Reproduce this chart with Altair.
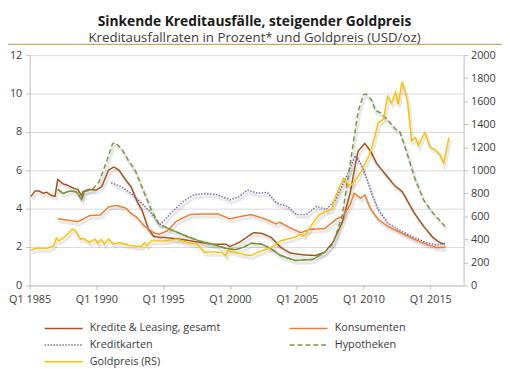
import altair as alt
import pandas as pd

series_names = ["Kredite & Leasing, gesamt", "Konsumenten", "Kreditkarten", "Hypotheken", "Goldpreis (RS)"]
series_colors = ["#A3541E", "#ED7D31", "#7B68A6", "#76983F", "#FFC000"]
series_dashes = [[1, 0], [1, 0], [1.5, 1.5], [5, 3], [1, 0]]

kredite_t = [1985.1, 1985.4, 1985.7, 1986.0, 1986.3, 1986.6, 1986.9, 1987.1, 1987.5, 1987.9, 1988.3, 1988.6,
             1988.9, 1989.0, 1989.4, 1990.0, 1990.4, 1990.9, 1991.3, 1991.7, 1992.2, 1992.6, 1993.1, 1993.4,
             1993.9, 1994.3, 1994.8, 1995.1, 1996.3, 1997.5, 1998.7, 1999.7, 2000.0, 2000.7, 2001.4, 2001.8,
             2002.4, 2003.1, 2003.8, 2004.5, 2005.5, 2006.4, 2007.1, 2007.7, 2008.4, 2009.0, 2009.4, 2009.6,
             2010.1, 2010.5, 2011.0, 2011.6, 2012.3, 2012.9, 2013.8, 2014.5, 2015.2, 2015.7, 2016.1]
kredite_v = [4.63, 4.92, 4.92, 4.8, 4.85, 4.7, 4.65, 5.52, 5.3, 5.2, 5.06, 5.0,
             4.67, 4.89, 5.0, 4.97, 5.14, 6.0, 6.17, 6.0, 5.49, 5.14, 4.29, 3.95,
             2.92, 2.55, 2.5, 2.5, 2.41, 2.27, 2.15, 2.15, 2.03, 2.24, 2.58, 2.75,
             2.71, 2.5, 1.98, 1.69, 1.59, 1.56, 1.73, 2.24, 3.27, 4.8, 6.34, 7.0,
             7.4, 7.03, 6.34, 5.83, 5.23, 4.89, 3.78, 3.09, 2.5, 2.24, 2.15]

konsum_t = [1987.1, 1987.8, 1988.6, 1989.5, 1990.3, 1990.9, 1991.5, 1992.2, 1992.6, 1993.0, 1993.6, 1994.3,
            1994.7, 1995.3, 1996.0, 1997.0, 1997.9, 1999.1, 2000.0, 2000.9, 2001.6, 2002.6, 2003.5, 2003.7,
            2004.5, 2005.3, 2006.0, 2007.1, 2008.0, 2008.5, 2009.0, 2009.3, 2009.8, 2010.1, 2010.5, 2011.1,
            2011.8, 2012.8, 2013.8, 2014.7, 2015.5, 2016.1]
konsum_v = [3.47, 3.41, 3.32, 3.64, 3.67, 4.09, 4.17, 4.03, 3.75, 3.57, 3.09, 2.75,
            2.67, 2.84, 3.35, 3.69, 3.72, 3.72, 3.47, 3.61, 3.69, 3.47, 3.2, 3.3,
            3.01, 2.75, 2.92, 2.96, 3.47, 3.64, 4.2, 4.8, 4.55, 4.72, 4.03, 3.44,
            3.09, 2.75, 2.41, 2.15, 1.98, 1.98]

karten_t = [1991.1, 1991.9, 1992.6, 1993.4, 1994.1, 1994.6, 1994.8, 1995.6, 1996.5, 1997.3, 1998.2, 1999.1,
            2000.0, 2000.7, 2001.3, 2002.1, 2002.8, 2003.5, 2004.3, 2005.0, 2005.7, 2006.5, 2007.2, 2007.9,
            2008.6, 2009.4, 2009.8, 2010.1, 2010.7, 2011.1, 2011.8, 2012.8, 2013.8, 2014.7, 2015.5, 2016.1]
karten_v = [5.35, 5.14, 4.8, 4.29, 3.78, 3.27, 3.18, 3.78, 4.38, 4.72, 4.79, 4.72,
            4.46, 4.63, 4.97, 4.8, 4.85, 4.29, 4.12, 3.69, 3.69, 4.12, 3.95, 4.46,
            5.49, 6.77, 6.34, 5.83, 4.63, 3.95, 3.27, 2.84, 2.5, 2.24, 2.1, 2.2]

hypo_t = [1987.1, 1987.5, 1988.0, 1988.5, 1988.9, 1989.1, 1989.7, 1990.2, 1990.7, 1991.2, 1991.4, 1991.9,
          1992.4, 1992.9, 1993.4, 1994.1, 1994.7, 1995.0, 1995.8, 1996.8, 1997.7, 1998.7, 1999.7, 2000.4,
          2001.0, 2001.6, 2002.4, 2003.1, 2003.8, 2004.9, 2006.2, 2007.1, 2007.7, 2008.4, 2009.0, 2009.3,
          2009.6, 2010.0, 2010.2, 2010.6, 2010.9, 2011.3, 2011.9, 2012.4, 2012.7, 2013.2, 2013.8, 2014.5,
          2015.2, 2016.1]
hypo_v = [5.01, 4.8, 4.92, 4.88, 4.46, 4.88, 5.01, 5.4, 6.34, 7.37, 7.45, 7.11,
          6.51, 6.0, 5.14, 3.95, 3.18, 3.09, 2.84, 2.55, 2.32, 2.15, 1.93, 1.86,
          1.98, 2.2, 2.15, 1.9, 1.56, 1.3, 1.35, 1.73, 2.15, 3.61, 6.34, 7.71,
          9.08, 9.93, 9.97, 9.68, 9.11, 8.99, 8.56, 8.14, 8.05, 7.03, 5.66, 4.46,
          3.78, 3.09]
# parts of the mortgage line that the reference draws solid
hypo_solid = [[1987.1, 1989.1], [1995.0, 2007.1]]

gold_t = [1985.1, 1985.6, 1986.3, 1986.8, 1987.0, 1987.2, 1987.7, 1988.2, 1988.4, 1988.8, 1989.0, 1989.5,
          1989.9, 1990.1, 1990.35, 1990.6, 1990.9, 1991.3, 1991.7, 1992.4, 1993.0, 1993.4, 1993.6, 1993.8,
          1994.1, 1995.1, 1996.0, 1996.8, 1997.5, 1997.9, 1998.1, 1998.7, 1999.4, 1999.7, 1999.8, 2000.4,
          2001.2, 2001.6, 2002.1, 2002.8, 2003.3, 2003.8, 2004.3, 2004.8, 2005.3, 2005.6, 2005.9, 2006.4,
          2006.7, 2007.2, 2007.6, 2007.9, 2008.5, 2008.9, 2009.1, 2009.5, 2009.8, 2010.3, 2010.6, 2011.1,
          2011.5, 2011.8, 2012.1, 2012.4, 2012.6, 2012.8, 2012.9, 2013.3, 2013.6, 2013.9, 2014.1, 2014.6,
          2015.0, 2015.3, 2015.7, 2016.0, 2016.4]
gold_v = [308, 322, 322, 345, 410, 387, 430, 487, 480, 402, 410, 373,
          402, 365, 400, 359, 402, 359, 373, 350, 339, 339, 373, 345,
          387, 387, 402, 373, 359, 316, 288, 290, 288, 259, 302, 288,
          265, 259, 288, 316, 345, 387, 402, 416, 444, 430, 487, 573,
          615, 644, 658, 772, 929, 872, 872, 929, 986, 1100, 1185, 1413,
          1442, 1641, 1584, 1678, 1570, 1712, 1769, 1598, 1256, 1285, 1214, 1327,
          1199, 1185, 1142, 1062, 1285]

x_ticks = [1985, 1990, 1995, 2000, 2005, 2010, 2015]
left_ticks = [0, 2, 4, 6, 8, 10, 12]
right_ticks = [0, 200, 400, 600, 800, 1000, 1200, 1400, 1600, 1800, 2000]

rows = []
for name, ts, vs in [(series_names[0], kredite_t, kredite_v), (series_names[1], konsum_t, konsum_v),
                     (series_names[2], karten_t, karten_v), (series_names[3], hypo_t, hypo_v),
                     (series_names[4], gold_t, gold_v)]:
    for t, v in zip(ts, vs):
        seg = ""
        if name == "Hypotheken":
            for i, (a, b) in enumerate(hypo_solid):
                if a <= t <= b:
                    seg = "s%d" % i
        rows.append({"series": name, "t": t, "v": v, "seg": seg})
df = pd.DataFrame(rows)

FONT = "Open Sans"
TXT = "#3a3a3a"
AX = "#BFBFBF"

x_enc = alt.X("t:Q", scale=alt.Scale(domain=[1985, 2017.5], nice=False, zero=False),
              axis=alt.Axis(values=x_ticks, labelExpr="'Q1 ' + datum.value", title=None, grid=False,
                            domainColor=AX, tickColor=AX, tickSize=4, labelFontSize=11, labelColor=TXT,
                            labelPadding=4, labelFont=FONT, labelFlush=False, labelOverlap=False))

left_axis = alt.Axis(values=left_ticks, title=None, grid=True, gridColor="#D9D9D9", domainColor=AX,
                     tickColor=AX, tickSize=4, labelFontSize=11, labelColor=TXT, labelPadding=4,
                     labelFont=FONT, labelOverlap=False, format="d")
y_left = alt.Y("v:Q", scale=alt.Scale(domain=[0, 12], nice=False), axis=left_axis)

right_axis = alt.Axis(values=right_ticks, orient="right", title=None, grid=False, domainColor=AX,
                      tickColor=AX, tickSize=4, labelFontSize=11, labelColor=TXT, labelPadding=3,
                      labelFont=FONT, format="d", labelOverlap=False)
y_right = alt.Y("v:Q", scale=alt.Scale(domain=[0, 2000], nice=False), axis=right_axis)

legend = alt.Legend(title=None, orient="none", legendX=28, legendY=271, columns=2, direction="horizontal",
                    symbolType="M-3.5,0H3.5", symbolSize=121, symbolStrokeWidth=1.5, labelFontSize=11,
                    labelFont=FONT, labelColor=TXT, columnPadding=67, rowPadding=5, labelOffset=20,
                    padding=0, labelLimit=300)

color_enc = alt.Color("series:N", scale=alt.Scale(domain=series_names, range=series_colors), legend=legend)
dash_enc = alt.StrokeDash("series:N", scale=alt.Scale(domain=series_names, range=series_dashes), legend=legend)

base = alt.Chart(df)
shadow = dict(color="#000000", opacity=0.09, strokeWidth=3, xOffset=1.5, yOffset=3)

left_data = base.transform_filter(alt.datum.series != "Goldpreis (RS)")
left_shadow = left_data.mark_line(**shadow).encode(x=x_enc, y=y_left, detail="series:N", order="t:Q")
left_lines = left_data.mark_line(strokeWidth=1.5).encode(
    x=x_enc, y=y_left, color=color_enc, strokeDash=dash_enc, order="t:Q")
hypo_solid_layer = base.transform_filter(alt.datum.seg != "").mark_line(
    strokeWidth=1.5, color="#76983F").encode(x=x_enc, y=y_left, detail="seg:N", order="t:Q")
left = alt.layer(left_shadow, left_lines, hypo_solid_layer)

gold_data = base.transform_filter(alt.datum.series == "Goldpreis (RS)")
gold_shadow = gold_data.mark_line(**shadow).encode(x=x_enc, y=y_right, order="t:Q")
gold_line = gold_data.mark_line(strokeWidth=1.5).encode(
    x=x_enc, y=y_right, color=color_enc, strokeDash=dash_enc, order="t:Q")
gold = alt.layer(gold_shadow, gold_line)

top_rule = alt.Chart(pd.DataFrame({"a": [0]})).mark_rule(color="#C8A76E", strokeWidth=1.2).encode(
    x=alt.value(-22), x2=alt.value(480), y=alt.value(-11))

chart = alt.layer(left, gold, top_rule).resolve_scale(y="independent").properties(
    width=441, height=234,
    autosize=alt.AutoSizeParams(type="none"),
    padding={"left": 22, "top": 45, "right": 39, "bottom": 82},
    title=alt.Title("Sinkende Kreditausfälle, steigender Goldpreis",
                    subtitle="Kreditausfallraten in Prozent* und Goldpreis (USD/oz)",
                    anchor="middle", dx=8, offset=-1, font=FONT, fontSize=14, fontWeight="bold",
                    color="#1a1a1a", subtitleFont=FONT, subtitleFontSize=13.5, subtitleColor=TXT,
                    subtitlePadding=3)
).configure_view(stroke=None)

chart.save("out.html", embed_options={"renderer": "svg", "actions": False})
